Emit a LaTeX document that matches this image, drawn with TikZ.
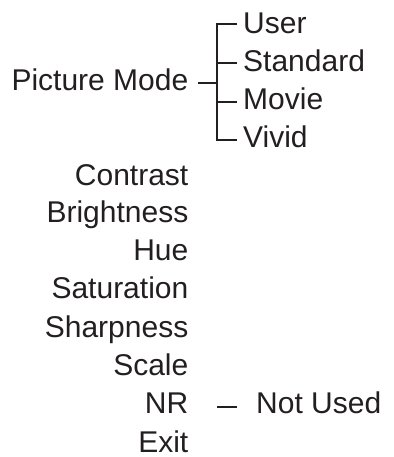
\documentclass[tikz,border=0pt]{standalone}
\usepackage{fontspec}
\setmainfont{Liberation Sans}
\usetikzlibrary{calc}
\definecolor{ink}{HTML}{231F20}
\begin{document}
\begin{tikzpicture}[x=1pt,y=-1pt,
  lbl/.style={inner sep=0pt,text=ink,font=\fontsize{30}{36}\selectfont},
  lefti/.style={lbl,anchor=base east},
  righti/.style={lbl,anchor=base west},
  conn/.style={draw=ink,line width=1.7pt}]
\useasboundingbox (0,0) rectangle (393,457);
% main menu
\node[lefti] (pm) at (188.5,91) {Picture Mode};
\node[lefti] (contrast) at (188.5,185) {Contrast};
\node[lefti] (bright) at (188.5,222.5) {Brightness};
\node[lefti] (hue) at (188.5,260.5) {Hue};
\node[lefti] (sat) at (188.5,298.5) {Saturation};
\node[lefti] (sharp) at (188.5,337) {Sharpness};
\node[lefti] (scale) at (188.5,375) {Scale};
\node[lefti] (nr) at (188.5,413.5) {NR};
\node[lefti] (exit) at (188.5,452) {Exit};
% sub menu
\node[righti] (user) at (243,34) {User};
\node[righti] (std) at (243,72) {Standard};
\node[righti] (movie) at (243,110) {Movie};
\node[righti] (vivid) at (243,148) {Vivid};
\node[righti] (notused) at (256,413.5) {Not Used};
% connector points
\coordinate (d) at (198,82.7);
\coordinate (j) at (217,82.7);
\coordinate (b1) at (237,24);
\coordinate (b2) at (237,62.7);
\coordinate (b3) at (237,102);
\coordinate (b4) at (237,140);
\coordinate (nA) at (217,407);
\coordinate (nB) at (237,407);
\draw[conn] (d) -- (j);
\draw[conn] (b1) -| (j) |- (b4);
\draw[conn] (b2) -- (b2 -| j);
\draw[conn] (b3) -- (b3 -| j);
\draw[conn] (nA) -- (nB);
\end{tikzpicture}
\end{document}
